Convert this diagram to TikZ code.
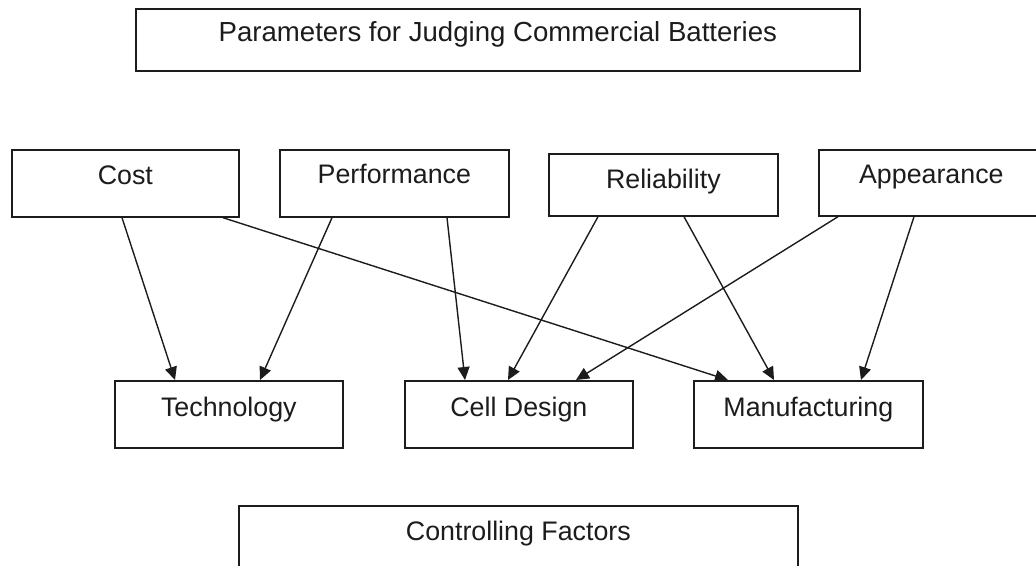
\documentclass[tikz,border=0pt]{standalone}
\usepackage{fontspec}
\setmainfont{Liberation Sans}
\usetikzlibrary{arrows.meta}
\definecolor{ink}{HTML}{1C1C1C}
\newcommand{\boxfont}{\fontsize{26.8}{30}\selectfont}
\newcommand{\headfont}{\fontsize{27.6}{31}\selectfont}
\tikzset{
  box/.style={draw=ink, line width=1.7pt, rectangle, anchor=north west,
    inner sep=0pt, font=\boxfont, text=ink, text height=35pt},
  arr/.style={draw=ink, line width=1.4pt, -{Triangle[length=13pt,width=12pt]}},
}
\begin{document}
\begin{tikzpicture}[x=1pt, y=-1pt]
\useasboundingbox (0,0) rectangle (1036,565);
\clip (0,0) rectangle (1036,565);

% heading
\node[box, font=\headfont, minimum width=724pt, text height=33pt, text depth=29pt] (param) at (135,8)
  {Parameters for Judging Commercial Batteries};

% judging parameters
\node[box, minimum width=227pt, text depth=32pt] (cost) at (11,149) {Cost};
\node[box, minimum width=229pt, text height=34pt, text depth=33pt] (perf) at (279,149) {Performance};
\node[box, minimum width=229pt, text depth=27pt] (rel) at (548,153) {Reliability};
\node[box, minimum width=225pt, text height=34pt, text depth=32pt] (app) at (818,149) {Appearance};

% controlling factors
\node[box, minimum width=228pt, text height=36pt, text depth=31pt] (tech) at (114,380) {Technology};
\node[box, minimum width=228pt, text height=36pt, text depth=31pt] (cell) at (404,380) {Cell Design};
\node[box, minimum width=229pt, text height=36pt, text depth=31pt] (manu) at (693,380) {Manufacturing};

\node[box, minimum width=559pt, text height=34.5pt, text depth=65pt] (ctrl) at (238,505) {Controlling Factors};

% influences
\draw[arr] ([xshift=111pt]cost.south west) -- ([xshift=61pt]tech.north west);
\draw[arr] ([xshift=212pt]cost.south west) -- ([xshift=35pt]manu.north west);
\draw[arr] ([xshift=53pt]perf.south west) -- ([xshift=146pt]tech.north west);
\draw[arr] ([xshift=168pt]perf.south west) -- ([xshift=61pt]cell.north west);
\draw[arr] ([xshift=50pt]rel.south west) -- ([xshift=104pt]cell.north west);
\draw[arr] ([xshift=136pt]rel.south west) -- ([xshift=81pt]manu.north west);
\draw[arr] ([xshift=20pt]app.south west) -- ([xshift=172pt]cell.north west);
\draw[arr] ([xshift=96pt]app.south west) -- ([xshift=168pt]manu.north west);
\end{tikzpicture}
\end{document}
